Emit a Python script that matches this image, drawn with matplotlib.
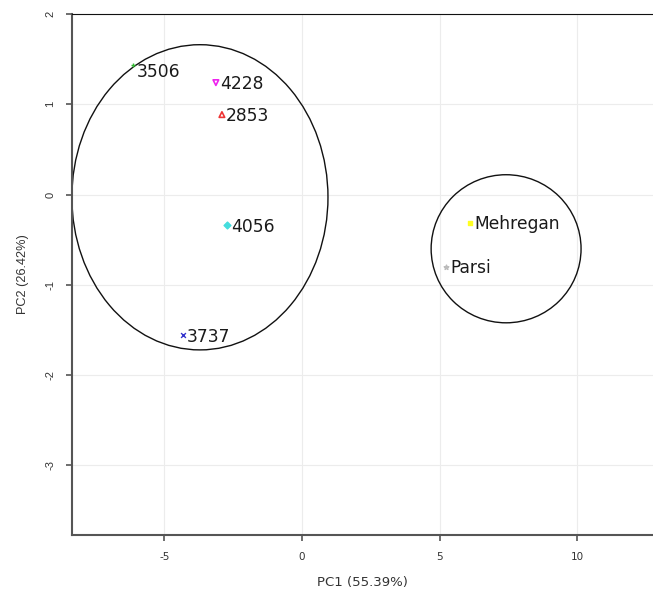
import matplotlib
matplotlib.use("Agg")
import matplotlib.pyplot as plt
from matplotlib.patches import Ellipse

labels = ["3506", "4228", "2853", "4056", "3737", "Mehregan", "Parsi"]
pc1 = [-6.15, -3.13, -2.91, -2.73, -4.33, 6.11, 5.24]
pc2 = [1.43, 1.24, 0.886, -0.34, -1.56, -0.31, -0.80]
colors = ["#33bb33", "#ee22ee", "#ee3333", "#44dddd", "#3333cc", "#ffff22", "#bbbbbb"]
markers = ["+", "v", "^", "D", "x", "s", "*"]
filled = [True, False, False, True, True, True, True]

# ellipses: center x, center y, width, height
ell_cx = [-3.71, 7.42]
ell_cy = [-0.03, -0.60]
ell_w = [9.31, 5.45]
ell_h = [3.38, 1.64]

xticks = [-5, 0, 5, 10]
yticks = [2, 1, 0, -1, -2, -3]

fig = plt.figure(figsize=(6.53, 5.97), dpi=100)
ax = fig.add_axes([72/653, 1-535/597, 1-72/653, (535-14)/597])
ax.set_xlim(-8.36, 12.76)
ax.set_ylim(-3.77, 2.0)

ax.grid(True, color="#ececec", linewidth=0.8)
ax.set_axisbelow(True)

for x, y, c, m, f in zip(pc1, pc2, colors, markers, filled):
    if f:
        ax.scatter([x], [y], marker=m, color=c, s=12, linewidths=1.0, zorder=3)
    else:
        ax.scatter([x], [y], marker=m, facecolors="none", edgecolors=c, s=16, linewidths=1.2, zorder=3)

for x, y, t in zip(pc1, pc2, labels):
    ax.annotate(t, (x, y), xytext=(3, -5 if t == "3506" else -1), textcoords="offset points",
                ha="left", va="center", fontsize=12.3, color="#1a1a1a",
                family="DejaVu Sans", zorder=4)

for cx, cy, w, h in zip(ell_cx, ell_cy, ell_w, ell_h):
    ax.add_patch(Ellipse((cx, cy), w, h, fill=False, edgecolor="#111111", linewidth=1.0, zorder=2))

ax.set_xticks(xticks)
ax.set_yticks(yticks)
ax.set_xticklabels([str(v) for v in xticks], fontsize=7.5, color="#333333", family="DejaVu Sans")
ax.set_yticklabels([str(v) for v in yticks], fontsize=8, color="#333333", family="Liberation Sans",
                   rotation=90, va="center")
ax.tick_params(direction="out", length=4, width=1.2, color="#555555", pad=8)

for s in ["left", "bottom"]:
    ax.spines[s].set_color("#555555")
    ax.spines[s].set_linewidth(1.5)
ax.spines["top"].set_color("#111111")
ax.spines["top"].set_linewidth(0.8)
ax.spines["right"].set_visible(False)

ax.set_xlabel("PC1 (55.39%)", fontsize=9.5, color="#333333", family="DejaVu Sans", labelpad=10)
ax.set_ylabel("PC2 (26.42%)", fontsize=9.2, color="#333333", family="Liberation Sans", labelpad=12)

fig.savefig("out.png", dpi=100)
